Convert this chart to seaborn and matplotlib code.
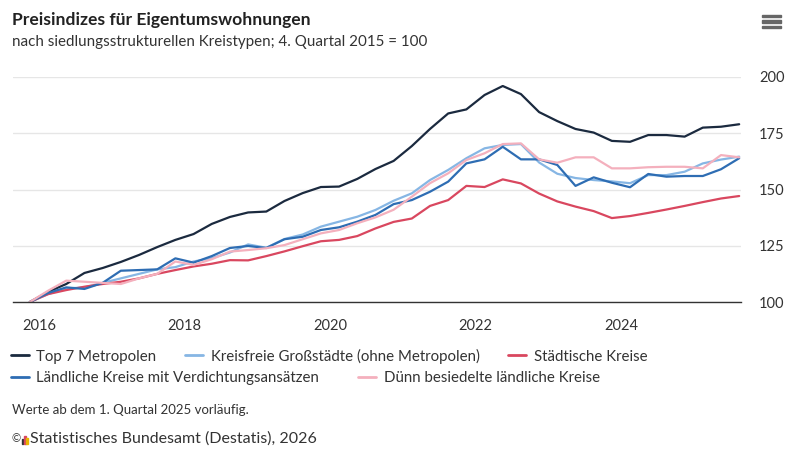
import numpy as np
import pandas as pd
import matplotlib.pyplot as plt
import seaborn as sns
from matplotlib.lines import Line2D
from matplotlib.patches import Rectangle
from matplotlib.ticker import FixedLocator

# Quartale 4/2015 bis 3/2025, Index 4. Quartal 2015 = 100
quartale = pd.period_range('2015Q4', '2025Q3', freq='Q')

top7 = [100, 104.5, 108, 112.9, 115.1, 117.8, 120.9, 124.4, 127.6, 130.2,
        134.7, 137.8, 139.8, 140.2, 144.9, 148.4, 151.1, 151.3, 154.7, 159.1,
        162.7, 169.3, 176.9, 183.8, 185.6, 192.0, 196.0, 192.4, 184.4, 180.4,
        176.9, 175.3, 171.6, 171.2, 174.2, 174.2, 173.5, 177.5, 177.9, 179.0]
kreisfreie = [100, 103.5, 106, 106.5, 108.5, 110.5, 112.5, 114.5, 115.5, 118,
              119.5, 122, 125.6, 124.1, 128, 130, 133.5, 135.7, 137.9, 140.9,
              145, 148.3, 154.2, 158.7, 163.9, 168.3, 169.8, 170.2, 162, 157,
              155.1, 154.2, 153.6, 152.8, 156.4, 156.4, 157.9, 161.6, 163.3, 164.6]
staedtische = [100, 103.5, 105.3, 106.8, 108, 109, 110.5, 112.5, 114.2, 115.8,
               117, 118.6, 118.5, 120.4, 122.5, 124.8, 127, 127.6, 129.3, 132.7,
               135.6, 137.1, 142.7, 145.3, 151.6, 151.1, 154.5, 152.7, 148.2, 144.7,
               142.4, 140.4, 137.3, 138.2, 139.6, 141.1, 142.7, 144.4, 146, 147.1]
laendliche = [100, 104, 106.5, 105.8, 108.5, 113.9, 114.2, 114.5, 119.4, 117.5,
              120.4, 124, 124.9, 124, 127.9, 129, 132, 133.2, 135.7, 138.7,
              143.5, 145.3, 149, 153.5, 161.6, 163.4, 169, 163.4, 163.4, 160.9,
              151.6, 155.4, 153, 151, 156.9, 155.7, 156, 156, 159, 163.9]
duenn = [100, 105, 109.5, 109, 108.5, 108, 110.5, 112.5, 118, 116.5,
         119, 122.4, 123.1, 123.9, 125.3, 127.9, 130.5, 132, 135, 137.6,
         141, 146.8, 152.8, 157.2, 163.1, 166.1, 170.2, 170.5, 163.4, 161.9,
         164.3, 164.3, 159.4, 159.4, 159.9, 160.1, 160.1, 159.4, 165.3, 164.3]

namen = ['Top 7 Metropolen',
         'Kreisfreie Großstädte (ohne Metropolen)',
         'Städtische Kreise',
         'Ländliche Kreise mit Verdichtungsansätzen',
         'Dünn besiedelte ländliche Kreise']
farben = ['#1b2a3f', '#86b6e4', '#d9475f', '#2e6db3', '#f4b0bd']
werte = [top7, kreisfreie, staedtische, laendliche, duenn]

jahr_labels = [2016, 2018, 2020, 2022, 2024]

# mitte des quartals als dezimales jahr
jahr = quartale.year + (quartale.quarter - 1) / 4 + 0.125
df = pd.concat([pd.DataFrame({'jahr': jahr, 'index': w, 'kreistyp': n})
                for n, w in zip(namen, werte)], ignore_index=True)

sns.set_theme(style='white')
plt.rcParams['font.family'] = ['Lato', 'DejaVu Sans']

W, H = 786, 449
fig = plt.figure(figsize=(W / 100, H / 100), dpi=100)
ax = fig.add_axes([13 / W, 147 / H, 728 / W, 225 / H])

sns.lineplot(data=df, x='jahr', y='index', hue='kreistyp', hue_order=namen,
             palette=dict(zip(namen, farben)), linewidth=1.6, ax=ax, legend=False)

ax.set_xlim(2015.643, 2025.65)
ax.set_ylim(100, 200)
ax.set_xlabel('')
ax.set_ylabel('')

ax.set_yticks([100, 125, 150, 175, 200])
ax.yaxis.tick_right()
ax.tick_params(axis='y', length=0, pad=13, labelsize=10.5, labelcolor='#333333')
ax.grid(axis='y', color='#e6e6e6', linewidth=1)
ax.set_axisbelow(True)

ax.set_xticks(jahr_labels)
ax.set_xticklabels([str(j) for j in jahr_labels])
minor = [2016 + k / 3 for k in range(-1, 30) if 2015.64 <= 2016 + k / 3 <= 2025.65]
ax.xaxis.set_minor_locator(FixedLocator(minor))
ax.tick_params(axis='x', which='major', length=8, width=1, color='#333333',
               labelsize=10.5, labelcolor='#333333', pad=4)
ax.tick_params(axis='x', which='minor', length=5, width=0.8, color='#333333')

for s in ['top', 'left', 'right']:
    ax.spines[s].set_visible(False)
ax.spines['bottom'].set_color('#333333')
ax.spines['bottom'].set_linewidth(1)

# legende in zwei zeilen wie im original
handles = [Line2D([], [], color=c, linewidth=2) for c in farben]
opts = dict(loc='center left', frameon=False, fontsize=10.8, handlelength=1.2,
            handletextpad=0.5, borderpad=0, borderaxespad=0, labelcolor='#333333')
fig.legend(handles[:3], namen[:3], ncol=3, columnspacing=1.9,
           bbox_to_anchor=(11 / W, 1 - 356 / H), **opts)
fig.legend(handles[3:], namen[3:], ncol=2, columnspacing=2.6,
           bbox_to_anchor=(11 / W, 1 - 378 / H), **opts)

fig.text(12 / W, 1 - 20 / H, 'Preisindizes für Eigentumswohnungen', fontsize=12.6,
         fontweight='bold', va='center', color='#222222')
fig.text(12 / W, 1 - 42 / H, 'nach siedlungsstrukturellen Kreistypen; 4. Quartal 2015 = 100',
         fontsize=10.9, va='center', color='#333333')
fig.text(12 / W, 1 - 410 / H, 'Werte ab dem 1. Quartal 2025 vorläufig.', fontsize=9.5,
         va='center', color='#333333')
fig.text(11 / W, 1 - 439 / H, '©', fontsize=8, va='center', color='#333333')
fig.text(30 / W, 1 - 439 / H, 'Statistisches Bundesamt (Destatis), 2026', fontsize=11.5,
         va='center', color='#333333')

# kleines logo
for x0, h, c in [(21.5, 5, '#333333'), (23.8, 8, '#d9475f'), (26.1, 6, '#e8b400')]:
    fig.add_artist(Rectangle((x0 / W, 1 - 444 / H), 1.7 / W, h / H, color=c,
                             transform=fig.transFigure))

# menue-symbol oben rechts
for yc in [16, 21.5, 27]:
    fig.add_artist(Rectangle((762 / W, 1 - (yc + 1.3) / H), 19 / W, 2.6 / H,
                             color='#666666', transform=fig.transFigure))

fig.savefig('out.png', dpi=100)
